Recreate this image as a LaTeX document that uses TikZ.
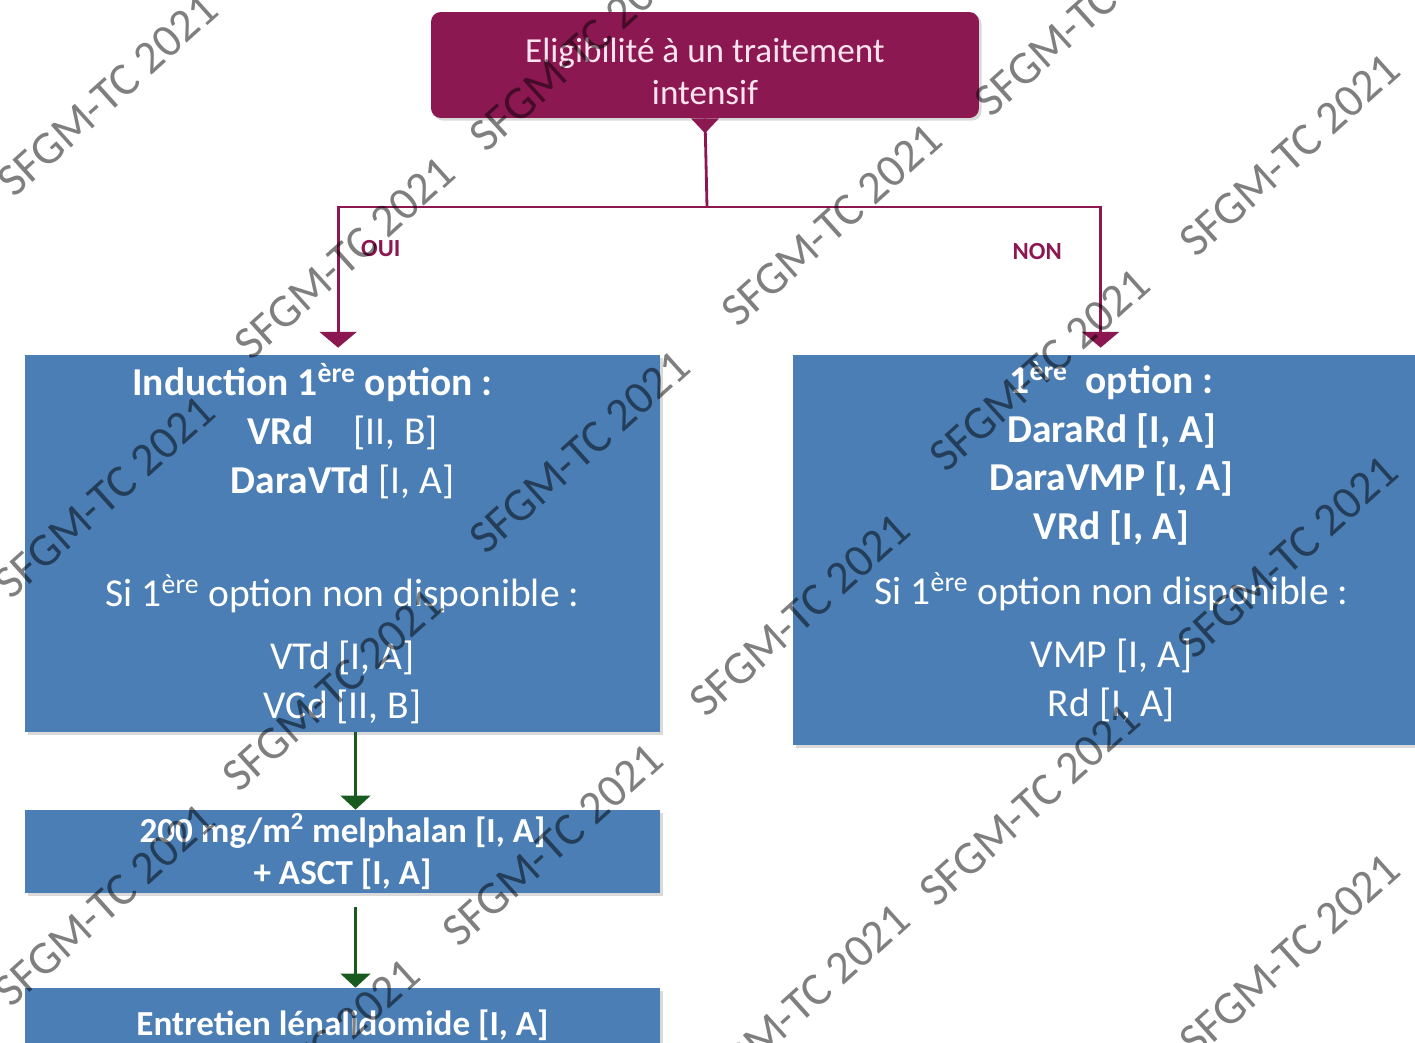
\documentclass[tikz,border=0pt]{standalone}
\usepackage{fontspec}
\setmainfont{Carlito}
\usepackage{xcolor}
\usepackage{tikz}
\usetikzlibrary{arrows.meta,shadows}
\definecolor{bordeaux}{RGB}{140,24,82}
\definecolor{acier}{RGB}{74,126,180}
\definecolor{sapin}{RGB}{25,90,30}
\definecolor{rosepale}{RGB}{255,228,240}

\begin{document}
\begin{tikzpicture}[x=0.02cm,y=-0.02cm,
    titre/.style={rectangle,rounded corners=5.5pt,fill=bordeaux,text=rosepale,align=center,
      minimum width=10.96cm,minimum height=2.12cm,font=\fontsize{20}{23.8}\selectfont,
      drop shadow={shadow xshift=1.5pt,shadow yshift=-1.5pt,opacity=0.3}},
    main node/.style={rectangle,fill=acier,text=white,align=center,inner sep=0pt,
      font=\fontsize{22.5}{27.8}\selectfont,
      drop shadow={shadow xshift=1.5pt,shadow yshift=-1.5pt,opacity=0.3}},
    step node/.style={main node,minimum width=12.7cm,font=\fontsize{20}{23.8}\selectfont\bfseries},
    branche/.style={draw=bordeaux,line width=1.6pt,shorten >=4pt,-{Triangle[width=21pt,length=9pt]}},
    suite/.style={draw=sapin,line width=1.2pt,-{Triangle[width=17pt,length=8pt]}},
    reponse/.style={text=bordeaux,font=\fontsize{14}{14}\selectfont\bfseries},
    filigrane/.style={rotate=42,text=black,text opacity=0.5,font=\fontsize{26.5}{26.5}\selectfont}]
        \path[use as bounding box] (0,0) rectangle (1415,1042);
        \clip (0,0) rectangle (1415,1042);

        \node[titre] (eligib) at (705,65)
          {\raisebox{0pt}[\dimexpr\height+7pt][\depth]{Eligibilité à un traitement}\\intensif};
        \fill[bordeaux] ([xshift=-8pt]eligib.south) -- ([yshift=-8.5pt]eligib.south) -- ([xshift=8pt]eligib.south) -- cycle;

        \node[main node,minimum width=12.7cm,minimum height=7.54cm] (induc) at (342.5,543.5)
          {{\bfseries Induction 1\textsuperscript{ère} option :}\makebox[1.2cm]{}\\
           {\bfseries VRd}\quad[II, B]\\
           {\bfseries DaraVTd} [I, A]\\[36.9pt]
           Si 1\textsuperscript{ère} option non disponible :\\[8pt]
           VTd [I, A]\\
           VCd [II, B]};
        \node[main node,minimum width=12.74cm,minimum height=7.8cm] (premiere) at (1111.5,550)
          {{\bfseries 1\textsuperscript{ère}\ \ option :}\\
           {\bfseries DaraRd [I, A]}\\
           {\bfseries DaraVMP [I, A]}\\
           {\bfseries VRd [I, A]}\\[9pt]
           Si 1\textsuperscript{ère} option non disponible :\\[8pt]
           VMP [I, A]\\
           \raisebox{0pt}[\height][\dimexpr\depth+10pt]{Rd [I, A]}};
        \node[step node,minimum height=1.66cm] (melpha) at (342.5,851.5)
          {200 mg/m\textsuperscript{2} melphalan [I, A]\\+ ASCT [I, A]};
        \node[step node,minimum height=1.48cm] (entretien) at (342.5,1025)
          {Entretien lénalidomide [I, A]};

        \coordinate (fourche) at (707,207);
        \draw[bordeaux,line width=1.6pt] (eligib.south) -- (fourche);
        \draw[branche] (fourche) -| node[reponse,pos=0.64,right,xshift=9pt] (oui) {OUI} ([xshift=-2.5pt]induc.north);
        \draw[branche] (fourche) -| node[reponse,pos=0.65,left,xshift=-18pt] (non) {NON} ([xshift=-6.2pt]premiere.north);
        \draw[suite] ([xshift=7.4pt]induc.south) -- ([xshift=7.4pt]melpha.north);
        \draw[suite] ([xshift=7.4pt,yshift=-8pt]melpha.south) -- ([xshift=7.4pt]entretien.north);

        % filigrane
        \foreach \x/\y [count=\i] in {108/95, 580/50, 1085/15, 1290/155, 345/258, 832/225,
            105/497, 580/452, 1040/370, 1288/557, 800/615, 333/690, 1030/805, 553/845,
            105/905, 800/1005, 1290/955, 310/1060}
          \node[filigrane] (sfgm\i) at (\x,\y) {SFGM-TC 2021};
      \end{tikzpicture}
\end{document}
